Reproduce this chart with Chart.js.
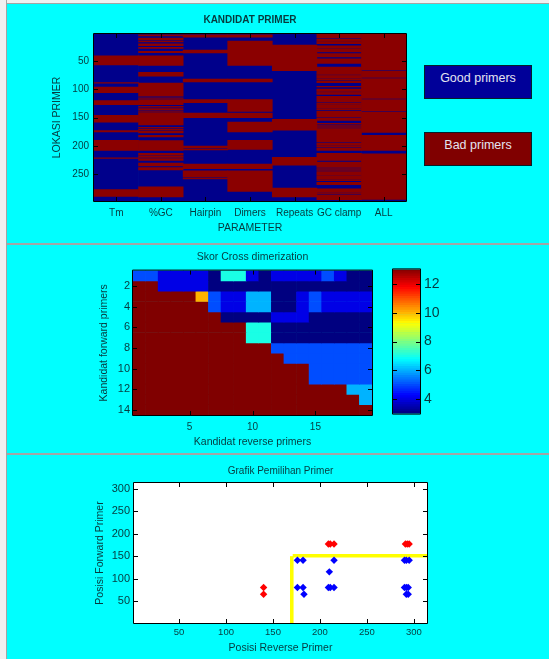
<!DOCTYPE html>
<html>
<head>
<meta charset="utf-8">
<title>Kandidat Primer</title>
<script src="https://cdn.jsdelivr.net/npm/chart.js@4/dist/chart.umd.min.js"></script>
<style>
  html, body { margin: 0; padding: 0; background: #00ffff; overflow: hidden; }
  body { width: 549px; height: 659px; position: relative; font-family: "Liberation Sans", Arial, sans-serif; }
  canvas { position: absolute; }
  .line { position: absolute; background: #a4a4a4; }
  .box { position: absolute; left: 424px; width: 106px; height: 32px; border: 1px solid #04202a; text-align: center;
         font-size: 12.5px; line-height: 25px; color: #e4e4f0; }
</style>
</head>
<body>
<div class="line" style="left:0;top:0;width:549px;height:3px;background:#f0f0f0"></div>
<div class="line" style="left:0;top:3px;width:549px;height:1px"></div>
<div class="line" style="left:0;top:0;width:6px;height:659px;background:#f0f0f0"></div>
<div class="line" style="left:6px;top:0;width:1px;height:659px"></div>
<div class="line" style="left:6px;top:243px;width:543px;height:2px"></div>
<div class="line" style="left:6px;top:453px;width:543px;height:2px"></div>

<canvas id="kandidat" width="407" height="240" style="left:0;top:0"></canvas>
<div class="box" style="top:65px;background:#000099">Good primers</div>
<div class="box" style="top:132px;background:#800000">Bad primers</div>
<canvas id="skor" width="373" height="205" style="left:0;top:245px"></canvas>
<canvas id="colorbar" width="60" height="169" style="left:392px;top:257px"></canvas>
<canvas id="pemilihan" width="428" height="204" style="left:0;top:455px"></canvas>

<script>
// KANDIDAT PRIMER - runs of bad primers per parameter [from, to]
const parameters = ['Tm', '%GC', 'Hairpin', 'Dimers', 'Repeats', 'GC clamp', 'ALL'];
const lokasiTicks = [50, 100, 150, 200, 250];
const lokasiRange = [2.5, 297];
const tmRuns = [[41,57],[88,89],[96,106],[120,127],[146,158],[173,175],[190,208],[221,222],[277,289]];
const gcRuns = [[4,6],[9.5,13],[15,16.5],[20,23],[26,28],[33,35.5],[41,58],[70,77],[89,112],[115,116],[118,127],[130,131.5],[134,136],[138,139],
  [141,163],[167,168],[170,172],[174,177],[181,184],[190.5,208],[213,216],[218,220],[222,225.5],[230,235],[238,240],[241,242],[272,290]];
const hairpinRuns = [[4,8],[31,36],[82,87],[118,123.5],[142,150],[200,203],[205,207],[232,240],[244,255],[257,258]];
const dimersRuns = [[4,8],[15,58],[82,87],[118,139],[142,150],[158,175],[190,206],[232,240],[244,280]];
const repeatsRuns = [[22,67],[153,172],[220,234],[274,290]];
const clampRuns = [[3,9.5],[11.5,15.5],[16.5,19.5],[23.5,26.5],[28,34],[37,43],[46.5,54.5],[61,69],[70,71],[72,73],[74,75],[76,80.5],[81.5,83],[85,88.5],
  [95,96],[99.5,101],[102,103],[104,105],[106,109],[112.5,122],[124,126.5],[127.5,129],[130,131],[132,133],[134,136],[138.5,149],[151,155],
  [160,161.5],[164,165],[166,167],[168,169],[170,171],[172,173],[174,175],[176,193],[195,199],[200,202],[204,208],[213,225.5],[228.5,231],
  [232,233],[234,235],[236,238],[240,241],[242,243],[245,252],[253,256],[257,259],[260,261],[264,268],[275.5,277],[278,279],[280,281],[282,283],[284,285],[287,294.5]];
const allRuns = [[3,66],[68,79],[81,116],[118,138],[140,176],[181,208],[214,294]];
const runsPerParameter = [tmRuns, gcRuns, hairpinRuns, dimersRuns, repeatsRuns, clampRuns, allRuns];

// Skor Cross dimerization - one row per forward primer, 19 reverse primers
const reverseIdx = ['1','2','3','4','5','6','7','8','9','10','11','12','13','14','15','16','17','18','19'];
const reverseTicks = ['5', '10', '15'];
const forwardTicks = [2, 4, 6, 8, 10, 12, 14];
const row1  = [5,5,4,4,4,4,3,7,7,4,3,4,4,4,4,5,4,3,3];
const row2  = [13,13,4,4,4,4,3,3,3,3,3,3,3,3,3,3,3,3,3];
const row3  = [13,13,13,13,13,10,5,4,4,6,6,3,3,4,5,4,4,4,4];
const row4  = [13,13,13,13,13,13,5,4,4,6,6,3,3,4,5,4,4,4,4];
const row5  = [13,13,13,13,13,13,13,3,3,3,3,4,4,4,3,3,3,3,3];
const row6  = [13,13,13,13,13,13,13,13,13,7,7,3,3,3,3,3,3,3,3];
const row7  = [13,13,13,13,13,13,13,13,13,7,7,3,3,3,3,3,3,3,3];
const row8  = [13,13,13,13,13,13,13,13,13,13,13,5,5,5,5,5,5,5,5];
const row9  = [13,13,13,13,13,13,13,13,13,13,13,13,5,5,5,5,5,5,5];
const row10 = [13,13,13,13,13,13,13,13,13,13,13,13,13,13,5,5,5,5,5];
const row11 = [13,13,13,13,13,13,13,13,13,13,13,13,13,13,5,5,5,5,5];
const row12 = [13,13,13,13,13,13,13,13,13,13,13,13,13,13,13,13,13,6,6];
const row13 = [13,13,13,13,13,13,13,13,13,13,13,13,13,13,13,13,13,13,6];
const row14 = [13,13,13,13,13,13,13,13,13,13,13,13,13,13,13,13,13,13,13];
const skorRows = [row1,row2,row3,row4,row5,row6,row7,row8,row9,row10,row11,row12,row13,row14];
const colorbarTicks = [4, 6, 8, 10, 12];
const skorMin = 3, skorMax = 13;

// Grafik Pemilihan Primer
const blueX = [176,182,215,290,292,295,210,176,182,209,211,215,290,292,294,183,292,294];
const blueY = [141,141,141,141,141,141,115,80,80,80,80,80,80,80,80,65,65,65];
const redX = [140,140,209,211,215,291,293,295];
const redY = [80,65,177,177,177,177,177,177];
const limitVX = [170,170], limitVY = [1,150];
const limitHX = [171,314], limitHY = [151,151];
const posXTicks = [50,100,150,200,250,300];
const posYTicks = [50,100,150,200,250,300];

const NAVY = '#00008b', MAROON = '#8b0000', INK = '#063a3e';
Chart.defaults.font.family = '"Liberation Sans", Arial, sans-serif';
Chart.defaults.font.size = 10;
Chart.defaults.color = INK;
Chart.defaults.animation = false;
Chart.defaults.responsive = false;
Chart.defaults.plugins.legend.display = false;
Chart.defaults.plugins.tooltip.enabled = false;

function jet(v) {
  const t = (v - skorMin) / (skorMax - skorMin);
  const c = k => Math.round(255 * Math.min(1, Math.max(0, 1.5 - Math.abs(4 * t - k))));
  return 'rgb(' + c(3) + ',' + c(2) + ',' + c(1) + ')';
}

// matlab style frame, ticks point inward on all sides
const frameTicks = {
  id: 'frameTicks',
  afterDatasetsDraw(chart) {
    const a = chart.chartArea, g = chart.ctx, len = 4;
    g.save();
    g.strokeStyle = '#000';
    g.lineWidth = 1;
    g.beginPath();
    Object.values(chart.scales).forEach(s => {
      if (s.options.display === false) return;
      s.ticks.forEach((t, i) => {
        if (t.label === '' || t.label === undefined) return;
        const p = Math.round(s.getPixelForTick(i)) + 0.5;
        if (s.isHorizontal()) {
          g.moveTo(p, a.top); g.lineTo(p, a.top + len);
          g.moveTo(p, a.bottom); g.lineTo(p, a.bottom - len);
        } else {
          g.moveTo(a.left, p); g.lineTo(a.left + len, p);
          g.moveTo(a.right, p); g.lineTo(a.right - len, p);
        }
      });
    });
    g.rect(a.left - 0.5, a.top - 0.5, a.right - a.left + 1, a.bottom - a.top + 1);
    g.stroke();
    g.restore();
  }
};

function pinned(size) {
  return s => { if (s.isHorizontal()) s.height = size; else s.width = size; };
}
function fixedTicks(list) {
  return s => { s.ticks = list.map(v => ({ value: v })); };
}
const barDefaults = { grouped: false, barPercentage: 1, categoryPercentage: 1, borderWidth: 0 };
const noGrid = { display: false, drawTicks: false };

// top panel, first dataset is painted last so the navy column goes at the end
const kandidatSets = [];
runsPerParameter.forEach((runs, i) => {
  runs.forEach(run => {
    kandidatSets.push({ data: [{ x: parameters[i], y: run }], backgroundColor: MAROON });
  });
});
kandidatSets.push({
  data: parameters.map(p => ({ x: p, y: lokasiRange })),
  backgroundColor: NAVY
});
new Chart(document.getElementById('kandidat'), {
  type: 'bar',
  data: { labels: parameters, datasets: kandidatSets },
  plugins: [frameTicks],
  options: {
    datasets: { bar: barDefaults },
    layout: { autoPadding: false, padding: { right: 1 } },
    plugins: {
      title: { display: true, text: 'KANDIDAT PRIMER', fullSize: false, font: { size: 10, weight: 'bold' },
               color: INK, padding: { top: 14, bottom: 8 } }
    },
    scales: {
      x: {
        afterFit: pinned(39),
        grid: noGrid, border: { display: false },
        ticks: { autoSkip: false, maxRotation: 0, padding: 6 },
        title: { display: true, text: 'PARAMETER', font: { size: 10.5 }, padding: { top: 0, bottom: 6 } }
      },
      y: {
        reverse: true, min: lokasiRange[0], max: lokasiRange[1],
        afterFit: pinned(94), afterBuildTicks: fixedTicks(lokasiTicks),
        grid: noGrid, border: { display: false },
        ticks: { padding: 5 },
        title: { display: true, text: 'LOKASI PRIMER', font: { size: 10.5 }, padding: { top: 51, bottom: 0 } }
      }
    }
  }
});

// middle panel
new Chart(document.getElementById('skor'), {
  type: 'bar',
  data: {
    labels: reverseIdx,
    datasets: skorRows.map((row, r) => ({
      data: row.map((v, c) => ({ x: reverseIdx[c], y: [r + 0.5, r + 1.5] })),
      backgroundColor: row.map(jet)
    }))
  },
  plugins: [frameTicks],
  options: {
    datasets: { bar: barDefaults },
    layout: { autoPadding: false, padding: { right: 1 } },
    plugins: {
      title: { display: true, text: 'Skor Cross dimerization', fullSize: false, font: { size: 10.5, weight: 'normal' },
               color: INK, padding: { top: 6, bottom: 7 } }
    },
    scales: {
      x: {
        afterFit: pinned(35),
        grid: noGrid, border: { display: false },
        ticks: { autoSkip: false, maxRotation: 0, padding: 6,
                 callback: function (v) { const l = this.getLabelForValue(v); return reverseTicks.includes(l) ? l : ''; } },
        title: { display: true, text: 'Kandidat reverse primers', font: { size: 10.5 }, padding: { top: 0, bottom: 2 } }
      },
      y: {
        reverse: true, min: 0.5, max: 14.5,
        afterFit: pinned(133), afterBuildTicks: fixedTicks(forwardTicks),
        grid: noGrid, border: { display: false },
        ticks: { padding: 3, font: { size: 11 } },
        title: { display: true, text: 'Kandidat forward primers', font: { size: 10.5 }, padding: { top: 98, bottom: 0 } }
      }
    }
  }
});

// colorbar, 64 levels like the jet map
const barLevels = [];
for (let i = 0; i < 64; i++) barLevels.push(skorMin + (i + 0.5) * (skorMax - skorMin) / 64);
new Chart(document.getElementById('colorbar'), {
  type: 'bar',
  data: {
    labels: ['skor'],
    datasets: barLevels.map(v => ({
      data: [{ x: 'skor', y: [v - 5 / 64, v + 5 / 64] }],
      backgroundColor: jet(v)
    }))
  },
  plugins: [frameTicks],
  options: {
    datasets: { bar: barDefaults },
    layout: { autoPadding: false, padding: { left: 1 } },
    scales: {
      x: { display: false },
      y: {
        position: 'right', min: skorMin, max: skorMax,
        afterFit: pinned(32), afterBuildTicks: fixedTicks(colorbarTicks),
        grid: noGrid, border: { display: false },
        ticks: { padding: 4, font: { size: 14 } }
      }
    }
  }
});

// bottom panel
const toPoints = (xs, ys) => xs.map((x, i) => ({ x: x, y: ys[i] }));
new Chart(document.getElementById('pemilihan'), {
  type: 'scatter',
  data: {
    datasets: [
      { data: toPoints(blueX, blueY), pointStyle: 'rectRot', pointRadius: 3.7, backgroundColor: '#0000ff', borderWidth: 0 },
      { data: toPoints(redX, redY), pointStyle: 'rectRot', pointRadius: 3.7, backgroundColor: '#ff0000', borderWidth: 0 },
      { data: toPoints(limitVX, limitVY), showLine: true, borderColor: '#ffff00', borderWidth: 3.6, pointRadius: 0, borderCapStyle: 'butt' },
      { data: toPoints(limitHX, limitHY), showLine: true, borderColor: '#ffff00', borderWidth: 3.6, pointRadius: 0, borderCapStyle: 'butt' }
    ]
  },
  plugins: [frameTicks, {
    id: 'whiteArea',
    beforeDatasetsDraw(chart) {
      const a = chart.chartArea;
      chart.ctx.fillStyle = '#fff';
      chart.ctx.fillRect(a.left, a.top, a.right - a.left, a.bottom - a.top);
    }
  }],
  options: {
    layout: { autoPadding: false, padding: { right: 1 } },
    plugins: {
      title: { display: true, text: 'Grafik Pemilihan Primer', fullSize: false, font: { size: 10, weight: 'normal' },
               color: INK, padding: { top: 10, bottom: 6 } }
    },
    scales: {
      x: {
        min: 2, max: 314,
        afterFit: pinned(36), afterBuildTicks: fixedTicks(posXTicks),
        grid: noGrid, border: { display: false },
        ticks: { padding: 4, font: { size: 9.5 } },
        title: { display: true, text: 'Posisi Reverse Primer', font: { size: 10.5 }, padding: { top: 0, bottom: 5 } }
      },
      y: {
        min: 1, max: 313,
        afterFit: pinned(134), afterBuildTicks: fixedTicks(posYTicks),
        grid: noGrid, border: { display: false },
        ticks: { padding: 4, font: { size: 11 } },
        title: { display: true, text: 'Posisi Forward Primer', font: { size: 10.5 }, padding: { top: 94, bottom: 0 } }
      }
    }
  }
});
</script>
</body>
</html>
